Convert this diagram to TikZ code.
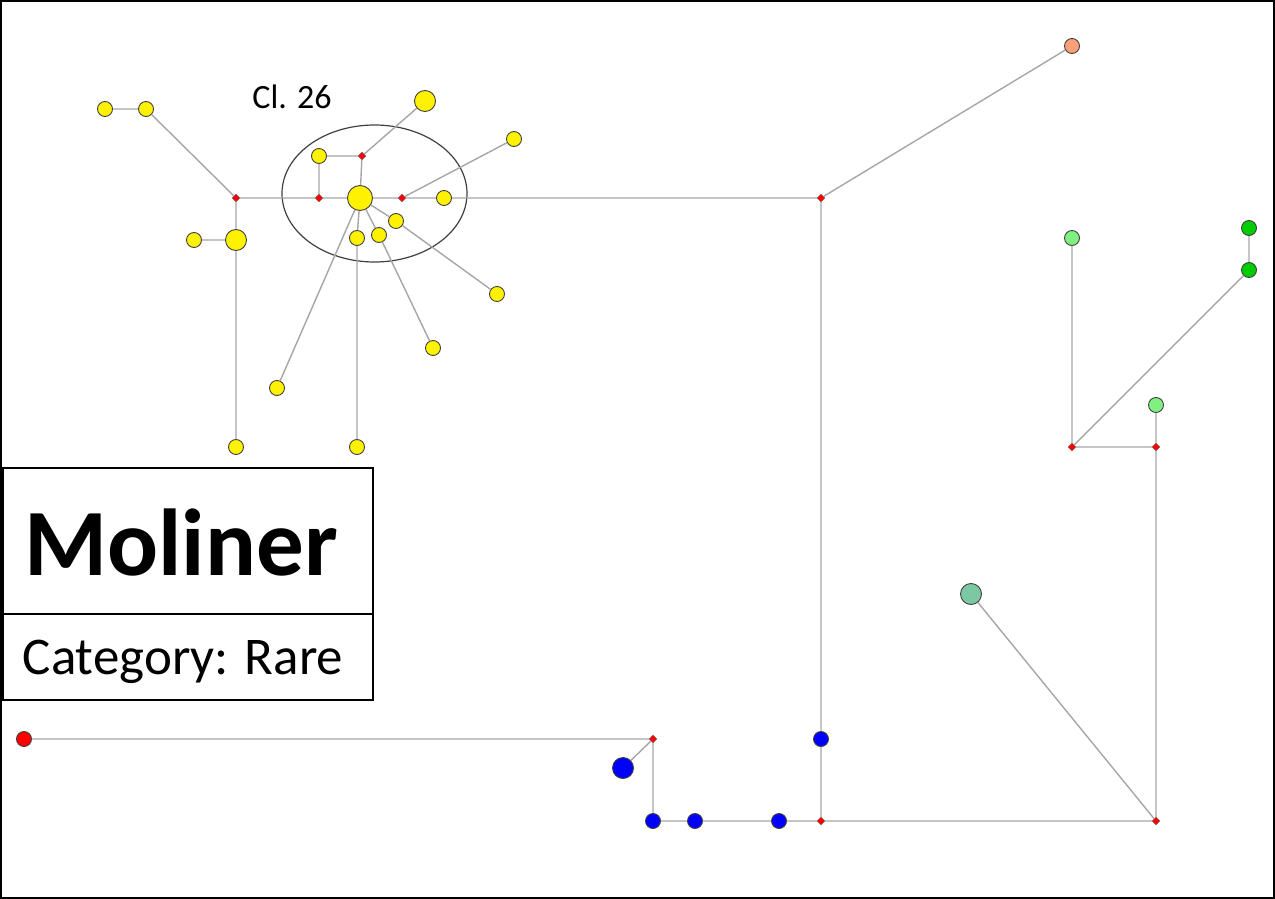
\documentclass[tikz,border=0pt]{standalone}
\usepackage{fontspec}
\setmainfont{Carlito}
\usetikzlibrary{shapes.geometric}
\definecolor{Edge}{HTML}{A6A6A6}
\definecolor{Salmon}{HTML}{FFA07A}
\definecolor{Teal}{HTML}{7CC8A2}
\definecolor{LGreen}{HTML}{80F080}
\definecolor{DGreen}{HTML}{00CC00}

\begin{document}
\begin{tikzpicture}[x=1pt,y=-1pt,
  hap/.style={circle,draw=black!75,line width=0.9pt,inner sep=0pt,minimum size=15pt},
  big/.style={minimum size=21pt},
  mv/.style={diamond,fill=red,draw=black!60,line width=0.4pt,inner sep=0pt,minimum size=8pt},
  link/.style={draw=Edge,line width=1.4pt},
  legbox/.style={draw,line width=1.5pt,fill=white,minimum width=370pt}]
\useasboundingbox (0,0) rectangle (1275,899);
\draw[line width=2pt] (1,1) rectangle (1274,898);
% cluster 26
\node[ellipse,draw=black!75,line width=1.2pt,minimum width=185pt,minimum height=137pt] (cl) at (374.5,193.5) {};
\node[font=\fontsize{34}{34}\selectfont] (cllab) at (292,97) {Cl. 26};
\node[mv] (j1) at (236,198) {};
\node[mv] (j2) at (319,198) {};
\node[mv] (j3) at (362,156) {};
\node[mv] (j4) at (402,198) {};
\node[mv] (j5) at (821,198) {};
\node[hap,fill=yellow] (y1) at (105,109) {};
\node[hap,fill=yellow] (y2) at (146,109) {};
\node[hap,fill=yellow] (y3) at (194,240) {};
\node[hap,big,fill=yellow] (y4) at (236,240) {};
\node[hap,fill=yellow] (y5) at (236,447) {};
\node[hap,fill=yellow] (y6) at (319,156) {};
\node[hap,big,fill=yellow] (y7) at (425,101) {};
\node[hap,fill=yellow,minimum size=25pt] (yc) at (360,198) {};
\node[hap,fill=yellow] (y8) at (514,139) {};
\node[hap,fill=yellow] (y9) at (444,198) {};
\node[hap,fill=yellow] (y10) at (396,221) {};
\node[hap,fill=yellow] (y11) at (379,235) {};
\node[hap,fill=yellow] (y12) at (357,238) {};
\node[hap,fill=yellow] (y13) at (497,294) {};
\node[hap,fill=yellow] (y14) at (433,348) {};
\node[hap,fill=yellow] (y15) at (277,388) {};
\node[hap,fill=yellow] (y16) at (357,447) {};
\draw[link] (y1)--(y2)--(j1)--(j2)--(yc)--(j4)--(y9)--(j5)
 (j1)--(y4)--(y5) (y3)--(y4) (j2)--(y6)--(j3)--(yc) (j3)--(y7)
 (j4)--(y8) (yc)--(y10)--(y13) (yc)--(y11)--(y14) (yc)--(y12)--(y16)
 (yc)--(y15);
% right and bottom
\node[hap,fill=Salmon] (o1) at (1072,46) {};
\node[hap,fill=blue] (b1) at (821,739) {};
\node[mv] (j6) at (821,821) {};
\node[hap,fill=blue] (b2) at (779,821) {};
\node[hap,fill=blue] (b3) at (695,821) {};
\node[hap,fill=blue] (b4) at (653,821) {};
\node[mv] (j7) at (653,739) {};
\node[hap,big,fill=blue] (b5) at (623,768) {};
\node[hap,fill=red] (r1) at (24,739) {};
\node[mv] (j8) at (1156,821) {};
\node[hap,big,fill=Teal] (t1) at (971,594) {};
\node[mv] (j9) at (1156,447) {};
\node[hap,fill=LGreen] (g1) at (1156,405) {};
\node[mv] (j10) at (1072,447) {};
\node[hap,fill=LGreen] (g2) at (1072,238) {};
\node[hap,fill=DGreen] (g3) at (1249,270) {};
\node[hap,fill=DGreen] (g4) at (1249,228) {};
\draw[link] (j5)--(o1) (j5)--(b1)--(j6)--(b2)--(b3)--(b4)--(j7)--(r1)
 (j7)--(b5) (j6)--(j8)--(t1) (j8)--(j9)--(g1) (j9)--(j10)--(g2)
 (j10)--(g3)--(g4);
% legend
\node[legbox,minimum height=146pt] (name) at (188,541) {};
\node[legbox,minimum height=86pt] (cat) at (188,657) {};
\node[font=\fontsize{95}{95}\selectfont\bfseries] (nametxt) at ([xshift=-7pt,yshift=-2pt]name.center) {Moliner};
\node[font=\fontsize{53}{53}\selectfont] (cattxt) at ([xshift=-5pt,yshift=-5pt]cat.center) {Category: Rare};
\end{tikzpicture}
\end{document}
